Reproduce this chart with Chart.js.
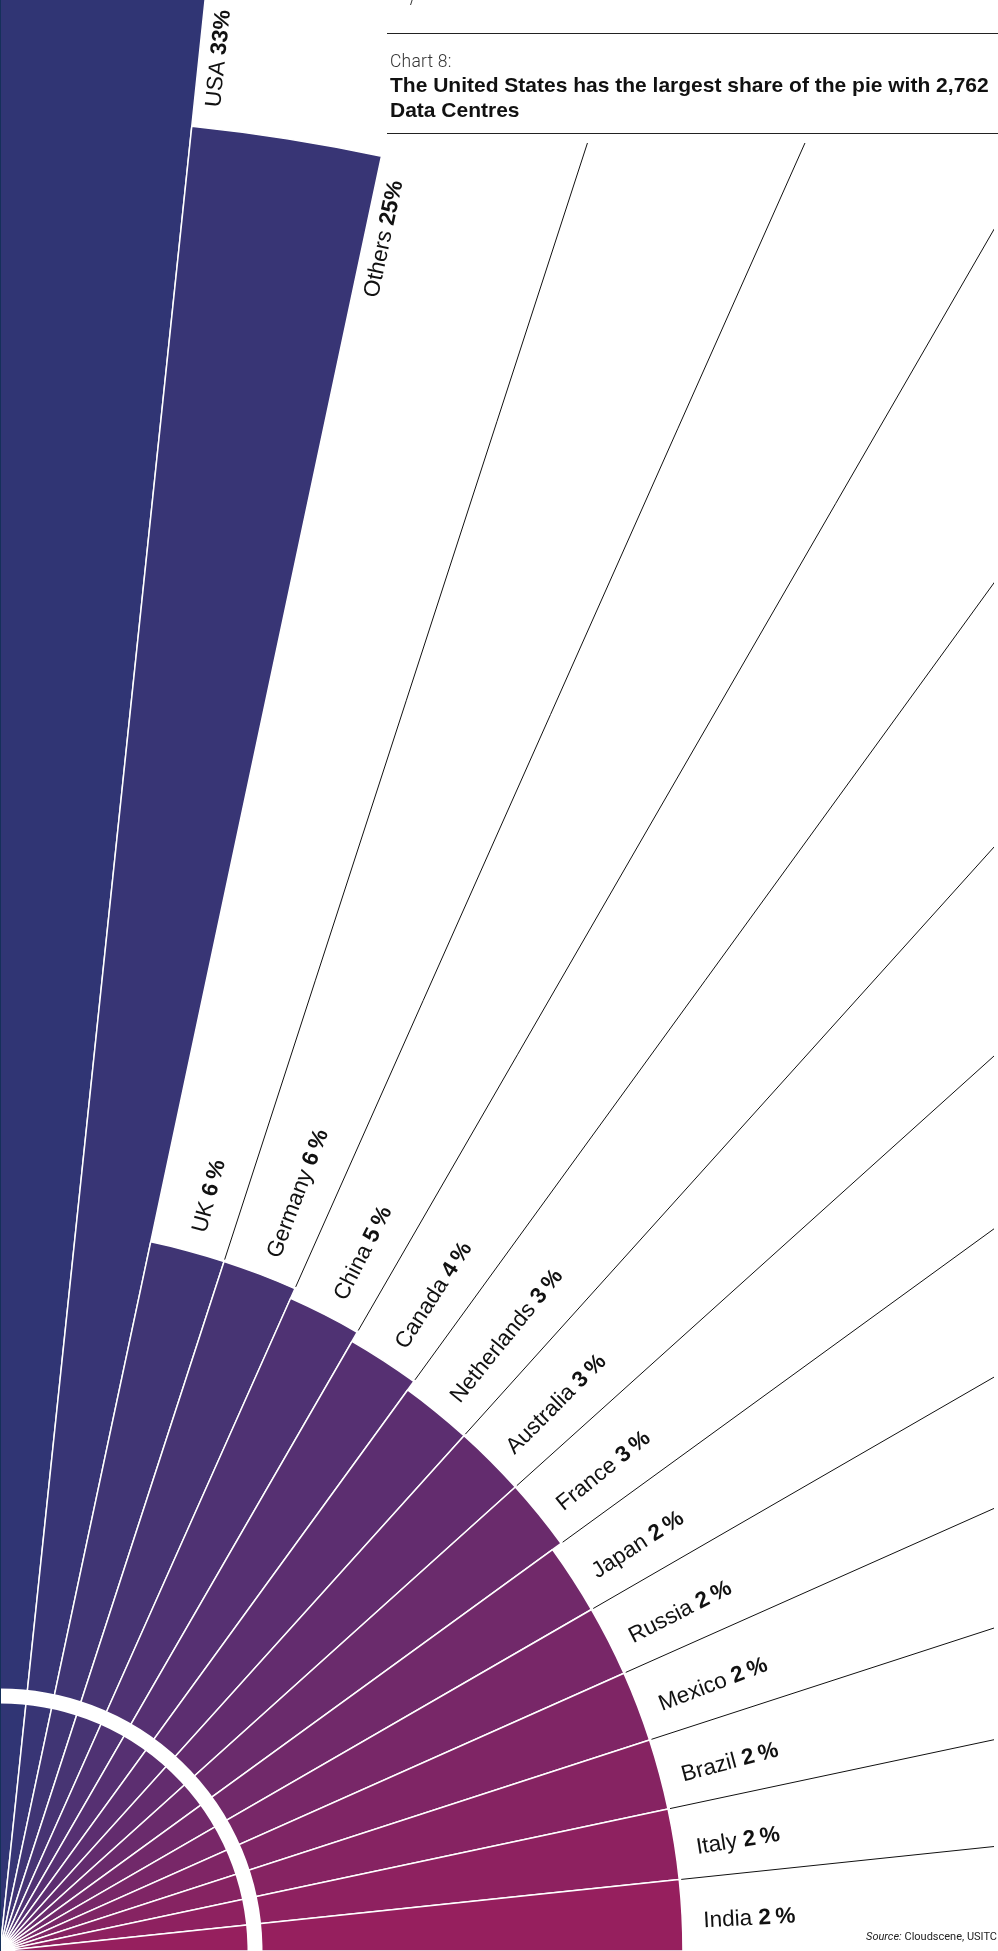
<!DOCTYPE html>
<html>
<head>
<meta charset="utf-8">
<script src="https://cdn.jsdelivr.net/npm/chart.js@4.4.1/dist/chart.umd.min.js"></script>
<style>
  html, body { margin: 0; padding: 0; background: #fff; }
  body { width: 998px; height: 1951px; position: relative; overflow: hidden; font-family: "Liberation Sans", Arial, sans-serif; color: #111; }
  #chart { position: absolute; left: 0; top: 0; }
  .rule { position: absolute; left: 387px; width: 611px; height: 0; border-top: 1px solid #222; }
  .kicker { position: absolute; left: 390px; top: 52.5px; font: 300 17.5px/17.5px Roboto, "Liberation Sans", sans-serif; letter-spacing: 0.2px; color: #333; white-space: nowrap; }
  .title { position: absolute; left: 390px; top: 72px; width: 608px; font: 700 21px/25px "Liberation Sans", Arial, sans-serif; color: #111; white-space: nowrap; }
  .source { position: absolute; right: 1px; top: 1931px; font: 400 11px/11px Roboto, "Liberation Sans", sans-serif; color: #222; white-space: nowrap; }
  .edge { position: absolute; left: 0; top: 0; width: 1px; height: 1951px; background: #15305a; }
  .frag { position: absolute; left: 411px; top: -1px; width: 1px; height: 6px; background: #333; transform: skewX(-18deg); }
</style>
</head>
<body>
<canvas id="chart" width="998" height="1951"></canvas>
<div class="edge"></div>
<div class="frag"></div>
<div class="rule" style="top:33px"></div>
<div class="kicker">Chart 8:</div>
<div class="title">The United States has the largest share of the pie with 2,762<br>Data Centres</div>
<div class="rule" style="top:133px"></div>
<div class="source"><i>Source:</i> Cloudscene, USITC</div>
<script>
// ---- data ----
const categories = ['USA', 'Others', 'UK', 'Germany', 'China', 'Canada', 'Netherlands', 'Australia', 'France', 'Japan', 'Russia', 'Mexico', 'Brazil', 'Italy', 'India'];
const shares = [33, 25, 6, 6, 5, 4, 3, 3, 3, 2, 2, 2, 2, 2, 2];
const shareLabels = ['33%', '25%', '6\u2009%', '6\u2009%', '5\u2009%', '4\u2009%', '3\u2009%', '3\u2009%', '3\u2009%', '2\u2009%', '2\u2009%', '2\u2009%', '2\u2009%', '2\u2009%', '2\u2009%'];
const sliceColors = ['#303574', '#383575', '#403574', '#473473', '#4f3273', '#563072', '#5c2e70', '#632c6e', '#6a2b6c', '#71296a', '#782768', '#7f2565', '#862362', '#8e2160', '#961f5e'];

// ---- radial scale with a break: the small shares are compressed, the large ones expanded ----
class BrokenRadialScale extends Chart.RadialLinearScale {
  setCenterPoint() {
    // pole anchored at the bottom-left corner of the chart area (quarter fan)
    this.xCenter = this.left;
    this.yCenter = this.bottom;
    this.drawingArea = this.bottom - this.top;
  }
  getDistanceFromCenterForValue(value) {
    if (value === null || value === undefined || isNaN(value)) return NaN;
    const b = this.options.brokenAxis;
    const lo = this.min, hi = this.max;
    let f;
    if (value <= b.at) {
      f = b.startFraction + (value - lo) / (b.at - lo) * (b.breakFraction - b.startFraction);
    } else {
      f = b.breakFraction + (value - b.at) / (hi - b.at) * (b.endFraction - b.breakFraction);
    }
    return f * this.drawingArea;
  }
}
BrokenRadialScale.id = 'brokenRadial';
BrokenRadialScale.defaults = {};
Chart.register(BrokenRadialScale);

const LABEL_FONT = '"Liberation Sans", Arial, sans-serif';

function labelWidths(ctx, name, pct, size) {
  ctx.font = '400 ' + size + 'px ' + LABEL_FONT;
  const w1 = ctx.measureText(name + ' ').width;
  ctx.font = '700 ' + size + 'px ' + LABEL_FONT;
  const w2 = ctx.measureText(pct).width;
  return [w1, w2];
}
function drawLabelText(ctx, name, pct, size, x, y, w1) {
  ctx.font = '400 ' + size + 'px ' + LABEL_FONT;
  ctx.fillText(name + ' ', x, y);
  ctx.font = '700 ' + size + 'px ' + LABEL_FONT;
  ctx.fillText(pct, x + w1, y);
}

const fanAnnotations = {
  id: 'fanAnnotations',
  afterDatasetsDraw(chart, args, opts) {
    const ctx = chart.ctx;
    const scale = chart.scales.r;
    const cx = scale.xCenter, cy = scale.yCenter;
    const arcs = chart.getDatasetMeta(0).data;
    const bigLimit = opts.besideThreshold * scale.drawingArea;
    ctx.save();

    // white ring near the pole
    ctx.beginPath();
    ctx.arc(cx, cy, opts.ringFraction * scale.drawingArea, -Math.PI / 2 - 0.02, 0.02);
    ctx.lineWidth = opts.ringWidth;
    ctx.strokeStyle = '#ffffff';
    ctx.stroke();

    // leader lines continuing the slice boundaries
    ctx.save();
    ctx.beginPath();
    ctx.rect(0, opts.lineTop, opts.lineRight, chart.height);
    ctx.clip();
    ctx.strokeStyle = '#111';
    ctx.lineWidth = 1;
    for (let i = 0; i < arcs.length - 1; i++) {
      const a = arcs[i], b = arcs[i + 1];
      if (a.outerRadius > bigLimit || b.outerRadius > bigLimit) continue;
      const ang = a.endAngle;
      const r0 = Math.max(a.outerRadius, b.outerRadius) + 2;
      const r1 = 4000;
      ctx.beginPath();
      ctx.moveTo(cx + r0 * Math.cos(ang), cy + r0 * Math.sin(ang));
      ctx.lineTo(cx + r1 * Math.cos(ang), cy + r1 * Math.sin(ang));
      ctx.stroke();
    }
    ctx.restore();

    // labels
    ctx.fillStyle = '#111';
    const size = opts.fontSize;
    arcs.forEach((arc, i) => {
      const name = categories[i], pct = shareLabels[i];
      const [w1, w2] = labelWidths(ctx, name, pct, size);
      ctx.save();
      if (arc.outerRadius > bigLimit) {
        // label runs alongside the slice's clockwise edge, ending just short of its tip
        const e = arc.endAngle;
        const visible = (cy - chart.chartArea.top) / Math.max(0.01, -Math.sin(e));
        const rEnd = Math.min(arc.outerRadius - opts.besideGap, visible - opts.topMargin);
        ctx.translate(cx + rEnd * Math.cos(e), cy + rEnd * Math.sin(e));
        ctx.rotate(e);
        ctx.textAlign = 'left';
        ctx.textBaseline = 'alphabetic';
        drawLabelText(ctx, name, pct, size, -(w1 + w2), opts.besideOffset, w1);
      } else {
        // label just beyond the slice tip, along its mid angle
        const m = (arc.startAngle + arc.endAngle) / 2;
        const r = arc.outerRadius + opts.outsideGap;
        ctx.translate(cx + r * Math.cos(m), cy + r * Math.sin(m));
        ctx.rotate(m);
        ctx.textAlign = 'left';
        ctx.textBaseline = 'middle';
        drawLabelText(ctx, name, pct, size, 0, opts.outsideShift, w1);
      }
      ctx.restore();
    });
    ctx.restore();
  }
};

new Chart(document.getElementById('chart'), {
  type: 'polarArea',
  data: {
    labels: categories,
    datasets: [{
      data: shares,
      backgroundColor: sliceColors,
      borderColor: '#ffffff',
      borderWidth: 1.5,
      angle: 90 / categories.length,
      clip: false
    }]
  },
  options: {
    responsive: false,
    animation: false,
    devicePixelRatio: 1,
    events: [],
    layout: { padding: 0 },
    scales: {
      r: {
        type: 'brokenRadial',
        min: 0,
        max: 33,
        startAngle: 0,
        brokenAxis: { at: 6, startFraction: 0.3393, breakFraction: 0.3716, endFraction: 1.18 },
        grid: { display: false },
        angleLines: { display: false },
        pointLabels: { display: false },
        ticks: { display: false }
      }
    },
    plugins: {
      legend: { display: false },
      tooltip: { enabled: false },
      fanAnnotations: {
        ringFraction: 0.1307,
        ringWidth: 15,
        lineTop: 143,
        lineRight: 994,
        besideThreshold: 0.8,
        besideGap: 21,
        besideOffset: 26,
        topMargin: 8,
        outsideGap: 21,
        outsideShift: 7,
        fontSize: 22.5
      }
    }
  },
  plugins: [fanAnnotations]
});
</script>
</body>
</html>
